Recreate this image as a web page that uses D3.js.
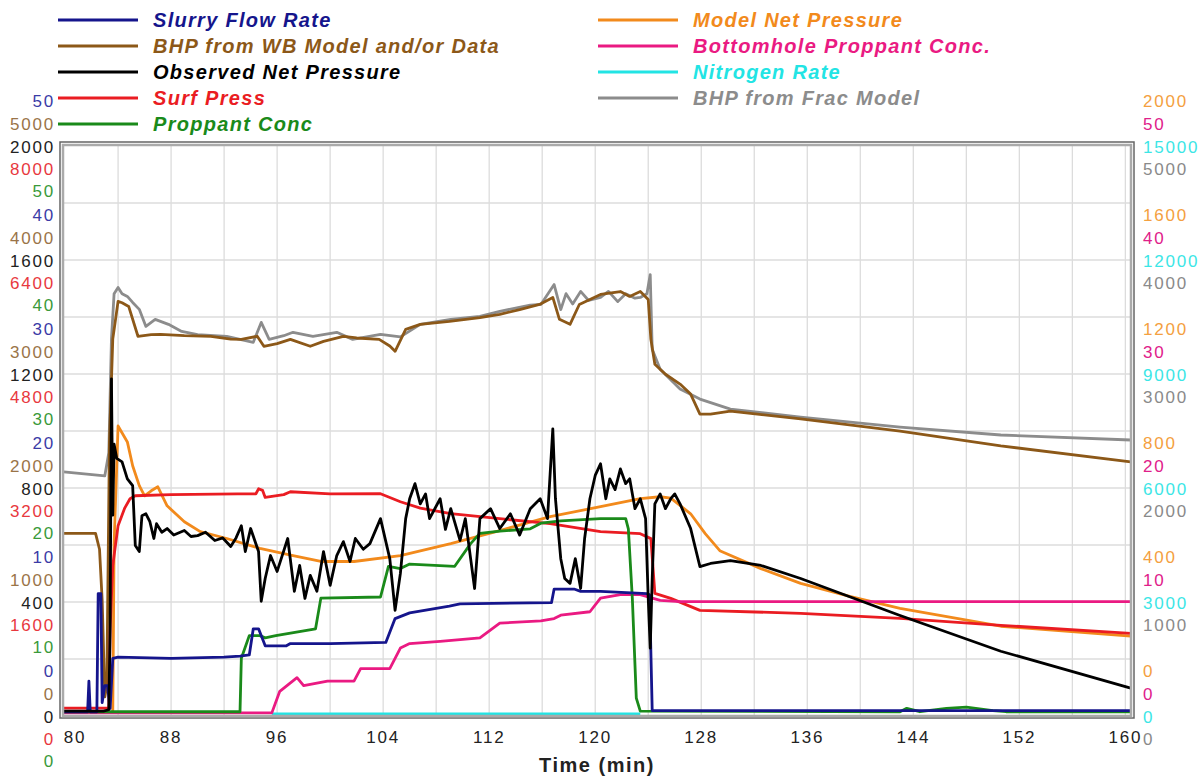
<!DOCTYPE html>
<html><head><meta charset="utf-8">
<script src="https://cdn.jsdelivr.net/npm/d3@7"></script>
<style>body{margin:0;background:#fff}svg{display:block}</style>
</head><body>
<svg id="c" width="1203" height="776"></svg>
<script>
// ---- Data (time in min, value in series units) ----
const xTicks = [80, 88, 96, 104, 112, 120, 128, 136, 144, 152, 160];

const slurryRate = [[79.9,0.2],[81.7,0.2],[81.8,2.9],[81.9,0.2],[82.4,0.2],[82.5,10.6],[82.7,10.6],[82.8,1],[83.0,2.5],[83.2,2.5],[83.4,0.5],[83.6,4.9],[84,5],[88,4.9],[92,5],[93.2,5.1],[93.9,5.2],[94.2,7.5],[94.6,7.5],[95.1,6.0],[96.7,6.0],[97,6.2],[100,6.2],[104.2,6.3],[104.9,8.4],[106,8.9],[109,9.5],[109.8,9.7],[116.7,9.8],[116.9,11.0],[118.4,11.0],[118.9,10.8],[120.4,10.8],[123.9,10.6],[124.1,10.5],[124.3,0.3],[160.5,0.3]];

const bhpWB = [[79.9,1590],[82.3,1590],[82.6,1450],[82.8,1000],[83.0,150],[83.15,250],[83.35,2400],[83.6,3300],[84.0,3632],[84.3,3620],[84.8,3588],[85.5,3325],[86.5,3340],[87.2,3342],[89,3330],[91,3325],[92.5,3300],[93.3,3298],[94.5,3325],[95.0,3237],[96.0,3260],[97.0,3298],[98.5,3237],[99.5,3280],[101,3325],[102,3310],[103.7,3298],[104.5,3240],[104.9,3193],[105.7,3386],[106.8,3430],[109,3456],[111.3,3490],[112.8,3518],[114.3,3560],[115.8,3605],[116.8,3667],[117.3,3474],[118.1,3430],[118.8,3605],[120.4,3693],[121.9,3719],[122.6,3676],[123.4,3719],[124.0,3649],[124.2,3298],[124.5,3079],[125.3,2991],[126.4,2904],[127.2,2816],[127.9,2640],[128.7,2640],[130.2,2667],[135.5,2597],[143,2491],[150.6,2360],[160.4,2219]];

const netObserved = [[79.9,10],[82.9,10],[83.3,15],[83.4,300],[83.5,1180],[83.6,700],[83.7,950],[83.9,900],[84.3,888],[84.7,828],[85.1,804],[85.3,593],[85.6,572],[85.8,698],[86.1,705],[86.4,677],[86.7,618],[86.9,670],[87.3,640],[87.7,653],[88.2,630],[89.0,646],[89.5,625],[90.0,628],[90.6,640],[91.3,611],[91.9,620],[92.5,590],[92.9,620],[93.3,663],[93.6,572],[94.0,653],[94.6,572],[94.8,397],[95.1,477],[95.5,558],[96.0,502],[96.8,618],[97.3,432],[97.7,523],[98.1,407],[98.5,488],[99.0,432],[99.5,572],[100.0,453],[100.5,558],[101.0,607],[101.5,537],[101.9,618],[102.5,580],[103.0,600],[103.8,688],[104.5,547],[104.9,365],[105.3,495],[105.7,688],[106.0,758],[106.4,811],[106.8,740],[107.2,775],[107.5,688],[108.3,758],[108.7,650],[109.1,723],[109.8,611],[110.2,688],[110.6,547],[110.9,442],[111.3,688],[112.1,723],[112.8,653],[113.6,705],[114.3,630],[115.1,723],[115.85,758],[116.4,688],[116.8,1004],[117.0,758],[117.4,547],[117.7,477],[118.1,460],[118.5,547],[118.9,442],[119.2,618],[119.6,758],[120.0,840],[120.4,881],[120.8,758],[121.1,828],[121.5,790],[121.9,863],[122.3,811],[122.6,828],[123.0,723],[123.4,758],[123.8,688],[124.0,407],[124.15,232],[124.3,477],[124.5,740],[124.9,775],[125.3,723],[125.7,758],[126.0,775],[126.4,740],[127.2,653],[127.9,519],[128.7,530],[130.2,540],[132.5,523],[135.5,477],[143.0,347],[150.6,221],[160.4,91]];

const surfPress = [[79.9,84],[83.3,84],[83.4,1200],[83.6,2091],[84.0,2653],[84.5,2900],[84.9,3032],[85.3,3074],[88,3090],[93,3100],[94.4,3102],[94.6,3172],[94.9,3150],[95.1,3050],[96.5,3090],[97,3130],[100,3100],[103.8,3102],[105.3,2990],[106.8,2900],[109.1,2821],[112.8,2751],[116.6,2681],[120.4,2568],[123.4,2540],[124.2,2470],[124.5,1698],[125.7,1628],[127.9,1460],[135.5,1418],[143,1347],[150.6,1249],[160.4,1137]];

const propConc = [[79.9,0.2],[93.2,0.2],[93.3,4.9],[93.9,6.9],[94.7,6.9],[95.1,6.7],[95.9,6.9],[98.9,7.5],[99.3,10.2],[103.8,10.3],[104.4,13.0],[105.3,12.8],[106.0,13.2],[109.4,13.0],[110.6,15.0],[111.3,15.9],[112.8,16.1],[115.1,16.3],[115.9,16.8],[117.4,17.0],[120.4,17.2],[122.3,17.2],[122.5,16.3],[122.8,10.2],[123.1,1.4],[123.4,0.26],[143.0,0.2],[143.5,0.5],[144.5,0.2],[146.5,0.5],[148,0.6],[150,0.3],[151,0.2],[160.5,0.2]];

const modelNet = [[79.9,5],[83.6,5],[83.7,600],[84.0,1014],[84.7,958],[85.1,874],[85.6,804],[86.0,768],[86.5,786],[87.0,800],[87.7,733],[89.0,677],[90.2,642],[92.2,618],[94.7,583],[97.2,558],[99.3,537],[101.8,537],[105.3,558],[109.1,600],[112.8,646],[116.6,695],[120.4,730],[123.4,758],[124.9,765],[125.7,760],[127.2,705],[128.3,635],[129.4,575],[132.5,512],[135.5,460],[139.2,414],[143,372],[150.6,309],[160.4,274]];

const bhProppant = [[79.9,0.1],[95.6,0.1],[96.2,2.0],[97.5,3.2],[98.0,2.5],[99.8,2.9],[101.8,2.9],[102.3,4.0],[104.5,4.0],[105.3,5.8],[106.0,6.2],[108.3,6.4],[111.3,6.7],[112.8,8.0],[115.9,8.2],[116.9,8.4],[117.4,8.7],[119.6,9.0],[120.4,10.2],[121.9,10.5],[123.4,10.5],[124.9,10.0],[126.4,9.9],[160.4,9.9]];

const nitrogenRate = [[95.6,0],[123.4,0]];

const bhpFrac = [[79.9,2132],[83.0,2097],[83.3,2300],[83.5,3300],[83.7,3700],[84.0,3754],[84.3,3700],[84.7,3676],[85.1,3623],[85.6,3562],[86.1,3412],[86.8,3474],[87.8,3430],[88.8,3368],[90.0,3340],[92.2,3325],[94.2,3272],[94.8,3447],[95.4,3298],[96.5,3330],[97.2,3360],[98.7,3325],[100.5,3360],[101.7,3298],[103.8,3342],[105.3,3320],[106.8,3430],[109.1,3474],[111.3,3500],[112.8,3544],[115.1,3600],[115.9,3605],[116.9,3780],[117.4,3560],[117.8,3700],[118.3,3610],[118.9,3720],[119.5,3640],[120.4,3667],[121.0,3720],[121.7,3630],[122.3,3700],[123.0,3660],[123.4,3667],[123.9,3700],[124.15,3868],[124.3,3211],[124.9,3035],[126.4,2860],[127.9,2772],[130.2,2684],[135.5,2614],[143,2526],[150.6,2456],[160.4,2412]];

// ---- Series definitions ----
const leftAxes = [
  {ticks:[0,10,20,30,40,50], max:50, color:"#3b3ba6", off:-46},
  {ticks:[0,1000,2000,3000,4000,5000], max:5000, color:"#9a7448", off:-23},
  {ticks:[0,400,800,1200,1600,2000], max:2000, color:"#222", off:0},
  {ticks:[0,1600,3200,4800,6400,8000], max:8000, color:"#e8383e", off:22},
  {ticks:[0,10,20,30,40,50], max:50, color:"#3a9a3a", off:44}
];
const rightAxes = [
  {ticks:[0,400,800,1200,1600,2000], max:2000, color:"#f4a040", off:-46},
  {ticks:[0,10,20,30,40,50], max:50, color:"#e0208a", off:-23},
  {ticks:[0,3000,6000,9000,12000,15000], max:15000, color:"#3ce6e6", off:0},
  {ticks:[0,1000,2000,3000,4000,5000], max:5000, color:"#8a8a8a", off:22}
];

const series = [
  {name:"Slurry Flow Rate", data:slurryRate, max:50, color:"#15158c", col:0, row:0},
  {name:"BHP from WB Model and/or Data", data:bhpWB, max:5000, color:"#8c5818", col:0, row:1},
  {name:"Observed Net Pressure", data:netObserved, max:2000, color:"#000000", col:0, row:2},
  {name:"Surf Press", data:surfPress, max:8000, color:"#ea1c22", col:0, row:3},
  {name:"Proppant Conc", data:propConc, max:50, color:"#1a8a1a", col:0, row:4},
  {name:"Model Net Pressure", data:modelNet, max:2000, color:"#f28a1c", col:1, row:0},
  {name:"Bottomhole Proppant Conc.", data:bhProppant, max:50, color:"#ea1a82", col:1, row:1},
  {name:"Nitrogen Rate", data:nitrogenRate, max:15000, color:"#22e4e4", col:1, row:2},
  {name:"BHP from Frac Model", data:bhpFrac, max:5000, color:"#8c8c8c", col:1, row:3}
];
const drawOrder = [7, 8, 1, 5, 3, 6, 4, 0, 2];

// ---- Layout ----
const svg = d3.select("#c");
const L = 64, R = 1132, T = 146, B = 716;
const x = d3.scaleLinear().domain([79.92, 160.5]).range([L, R]);
const font = "'Liberation Sans', Arial, sans-serif";

// grid
const g = svg.append("g");
g.selectAll("line.v").data(d3.range(84, 161, 4)).enter().append("line")
  .attr("x1", d => x(d)).attr("x2", d => x(d)).attr("y1", T).attr("y2", B)
  .attr("stroke", "#dcdcdc").attr("stroke-width", 1.3);
const yGrid = d3.scaleLinear().domain([0, 10]).range([B, T]);
g.selectAll("line.h").data(d3.range(1, 10)).enter().append("line")
  .attr("x1", L).attr("x2", R).attr("y1", d => yGrid(d)).attr("y2", d => yGrid(d))
  .attr("stroke", "#dcdcdc").attr("stroke-width", 1.3);

// lines
const plot = svg.append("g");
drawOrder.forEach(i => {
  const s = series[i];
  const y = d3.scaleLinear().domain([0, s.max]).range([B - 2, T]);
  plot.append("path").datum(s.data)
    .attr("fill", "none").attr("stroke", s.color).attr("stroke-width", 2.8)
    .attr("stroke-linejoin", "round")
    .attr("d", d3.line().x(d => x(d[0])).y(d => y(d[1])));
});

// frame
svg.append("rect").attr("x", L - 4).attr("y", T - 4).attr("width", R - L + 6).attr("height", B - T + 6)
  .attr("fill", "none").attr("stroke", "#666").attr("stroke-width", 1.5);
svg.append("rect").attr("x", L - 1).attr("y", T - 1).attr("width", R - L).attr("height", B - T + 1)
  .attr("fill", "none").attr("stroke", "#aaa").attr("stroke-width", 2.5);

// left axes labels
const tickStyle = sel => sel.style("font-family", font).style("font-size", "17px").style("letter-spacing", "1.8px");
leftAxes.forEach(a => {
  const y = d3.scaleLinear().domain([0, a.max]).range([B, T]);
  svg.append("g").selectAll("text").data(a.ticks).enter().append("text")
    .attr("x", 55).attr("y", d => y(d) + a.off + 1).attr("dy", "0.35em")
    .attr("text-anchor", "end").attr("fill", a.color)
    .call(tickStyle).text(d => d);
});
rightAxes.forEach(a => {
  const y = d3.scaleLinear().domain([0, a.max]).range([B, T]);
  svg.append("g").selectAll("text").data(a.ticks).enter().append("text")
    .attr("x", 1143).attr("y", d => y(d) + a.off + 1).attr("dy", "0.35em")
    .attr("text-anchor", "start").attr("fill", a.color)
    .call(tickStyle).text(d => d);
});

// x axis labels
svg.append("g").selectAll("text").data(xTicks).enter().append("text")
  .attr("x", d => x(d) + (d === 80 ? 10 : 0)).attr("y", 737).attr("dy", "0.35em")
  .attr("text-anchor", "middle").attr("fill", "#222")
  .call(tickStyle).text(d => d);
svg.append("text").attr("x", 597).attr("y", 765).attr("dy", "0.35em")
  .attr("text-anchor", "middle").attr("fill", "#222")
  .style("font-family", font).style("font-size", "20px").style("font-weight", "bold")
  .style("letter-spacing", "1.5px")
  .text("Time (min)");

// legend
const legX = [58, 598], rowY = [20, 46, 72, 98, 124];
series.forEach(s => {
  const lx = legX[s.col], ly = rowY[s.row];
  svg.append("line").attr("x1", lx).attr("x2", lx + 80).attr("y1", ly).attr("y2", ly)
    .attr("stroke", s.color).attr("stroke-width", 2.8);
  svg.append("text").attr("x", lx + 95).attr("y", ly).attr("dy", "0.36em")
    .attr("fill", s.color).style("font-family", font).style("font-size", "20px")
    .style("font-weight", "bold").style("font-style", "italic")
    .style("letter-spacing", "1.3px").text(s.name);
});
</script>
</body></html>
